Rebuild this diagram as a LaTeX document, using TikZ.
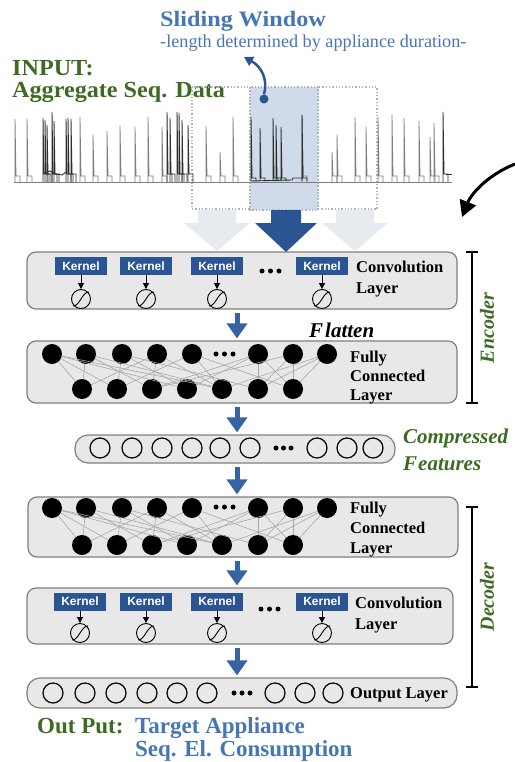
\documentclass[tikz,border=0pt]{standalone}
\usepackage{fontspec}
\setmainfont{Liberation Serif}
\newfontfamily\kfont{Liberation Sans}
\newfontfamily\wserif[FakeStretch=1.1]{Liberation Serif}
\newfontfamily\gserif[FakeStretch=1.05]{Liberation Serif}
\usetikzlibrary{arrows.meta}
\definecolor{gtxt}{HTML}{3E6B23}
\definecolor{btxt}{HTML}{4676B4}
\definecolor{kblue}{HTML}{2B5592}
\definecolor{abl}{HTML}{3563A3}
\definecolor{boxfill}{HTML}{E8E8E8}
\definecolor{boxgray}{HTML}{808080}
\definecolor{winfill}{HTML}{CFDBEB}
\definecolor{ghost}{HTML}{E7EAEF}
\definecolor{conngray}{HTML}{A8A8A8}
\definecolor{wavegray}{HTML}{7E7E7E}
\definecolor{wavedark}{HTML}{2E2E2E}
\begin{document}
\begin{tikzpicture}[x=1pt,y=-1pt,
 layerbox/.style={draw=boxgray, fill=boxfill, line width=1.2pt, rounded corners=9pt, inner sep=0},
 pillbox/.style={layerbox, rounded corners=13pt},
 kernelbox/.style={fill=kblue, text=white, font=\kfont\bfseries\fontsize{12}{12}\selectfont, minimum width=52pt, minimum height=18pt, inner sep=0},
 sig/.style={circle, draw=black, line width=0.9pt, minimum size=19pt, inner sep=0},
 fcnode/.style={circle, fill=black, minimum size=20pt, inner sep=0},
 hnode/.style={circle, draw=black, line width=1.2pt, minimum size=20pt, inner sep=0},
 dotn/.style={circle, fill=black, minimum size=5pt, inner sep=0},
 lbl/.style={anchor=base west, inner sep=0, font=\bfseries\fontsize{16.5}{16.5}\selectfont},
 layerarrow/.style={draw=abl, line width=5pt, shorten <=3pt, shorten >=2pt, -{Triangle[width=20pt,length=15pt]}},
 karrow/.style={line width=1pt, -{Triangle[width=6pt,length=6pt]}},
 conn/.style={draw=conngray, line width=0.6pt},
 wave/.style={draw=wavegray, line width=0.8pt},
 wavek/.style={draw=wavedark, line width=0.9pt},
 dotrect/.style={draw=black!30, dotted, line width=1.3pt},
]
\useasboundingbox (0,0) rectangle (514,762);

% ---------- top titles ----------
\node[anchor=base west, inner sep=0, text=btxt, font=\wserif\bfseries\fontsize{22}{22}\selectfont] (sw) at (160,27) {Sliding Window};
\node[anchor=base west, inner sep=0, text=btxt, font=\fontsize{18.2}{18.2}\selectfont] (swsub) at (160,48) {-length determined by appliance duration-};
\node[anchor=base west, inner sep=0, text=gtxt, font=\gserif\bfseries\fontsize{23}{23}\selectfont] (inp) at (12,76) {INPUT:};
\node[anchor=base west, inner sep=0, text=gtxt, font=\gserif\bfseries\fontsize{23}{23}\selectfont] (agg) at (12,98) {Aggregate Seq. Data};

% ---------- windows ----------
\draw[dotrect] (192,87) rectangle (250,209);
\draw[dotrect] (318,87) rectangle (377,209);
\fill[winfill] (250,87) rectangle (318,210);
\draw[dotrect] (250,87) rectangle (318,210);

% ---------- waveform ----------
\draw[wave] (14,182) -- (452,182);
\foreach \x/\t in {15/119,27/119,80/117,93/135,107/131,120/126,135/127,148/117,162/127,206/126,220/152,233/117,302/115,332/152,337/135,355/117,366/127,378/117,392/115,404/118,419/121,430/137,434/123}
  \draw[wave] (\x,182) -- (\x,\t) -- (\x+1,176) -- (\x+5,176) -- (\x+5,182);
\foreach \x/\t in {43/118,45/120,47/125,52/112,54/121,66/119,68/118,71/119,167/112,170/118,177/112,179/113,182/120,188/125,443/112}
  \draw[wavek] (\x,182) -- (\x,\t) -- (\x+1,174) -- (\x+5,174) -- (\x+5,182);
\draw[wavek] (44,173) -- (50,171) -- (56,174) -- (62,175) -- (66,172);
\draw[wavek] (446,174) -- (452,174);
\foreach \x/\t in {251/117,260/128,273/118,276/125,281/127,302/115}
  \draw[wavek] (\x,181) -- (\x,\t) -- (\x+1,178) -- (\x+5,178) -- (\x+5,181);
\draw[wavek] (251,181) -- (292,180) -- (293,178) -- (302,178);

% ---------- ghost arrows and main arrow ----------
\fill[ghost] (198,210) -- (236,210) -- (236,223) -- (250,223) -- (217,251) -- (184,223) -- (198,223) -- cycle;
\fill[ghost] (336,210) -- (374,210) -- (374,223) -- (388,223) -- (355,251) -- (322,223) -- (336,223) -- cycle;
\fill[kblue] (271,210) -- (301,210) -- (301,223) -- (317,223) -- (286,252) -- (255,223) -- (271,223) -- cycle;

% pointer to sliding window
\node[circle, fill=kblue, minimum size=9pt, inner sep=0] (wdot) at (264,99) {};
\coordinate (wtip) at (244,57);
\draw[kblue, line width=2.5pt, -{Triangle[width=10pt,length=9pt]}] (wdot.north) .. controls (268,80) and (262,67) .. (wtip);

% black curved arrow
\coordinate (bstart) at (515,164);
\coordinate (bend) at (462,217);
\draw[line width=3pt, -{Triangle[width=17pt,length=16pt]}] (bstart) .. controls (490,174) and (472,192) .. (bend);

% ---------- layer boxes ----------
\node[layerbox, minimum width=430pt, minimum height=57pt] (conv1) at (242,280.5) {};
\node[layerbox, minimum width=430pt, minimum height=62pt] (fc1) at (242,372) {};
\node[pillbox, minimum width=320pt, minimum height=28pt] (comp) at (235,449) {};
\node[layerbox, minimum width=430pt, minimum height=60pt] (fc2) at (243,527) {};
\node[layerbox, minimum width=426pt, minimum height=56pt] (conv2) at (240,616) {};
\node[pillbox, minimum width=430pt, minimum height=30pt] (outl) at (242,693) {};

\coordinate (ax) at (237,0);
\draw[layerarrow] (conv1.south -| ax) -- (fc1.north -| ax);
\draw[layerarrow] (fc1.south -| ax) -- (comp.north -| ax);
\draw[layerarrow] (comp.south -| ax) -- (fc2.north -| ax);
\draw[layerarrow] (fc2.south -| ax) -- (conv2.north -| ax);
\draw[layerarrow] (conv2.south -| ax) -- (outl.north -| ax);

% ---------- encoder convolution ----------
\foreach \x [count=\i] in {81,146,217,322} {
  \node[kernelbox] (ek\i) at (\x,266) {Kernel};
  \node[sig] (es\i) at (\x,299) {};
  \draw[karrow] (ek\i) -- (es\i);
  \draw[line width=0.9pt] ([shift={(-8,7)}]es\i.center) .. controls ([shift={(-1,7)}]es\i.center) and ([shift={(1,-7)}]es\i.center) .. ([shift={(8,-7)}]es\i.center);
}
\foreach \x [count=\i] in {262,270.5,279} \node[dotn] (ed\i) at (\x,271) {};
\node[lbl] (cl1a) at (356,272) {Convolution};
\node[lbl] (cl1b) at (356,293) {Layer};
\node[anchor=base west, inner sep=0, font=\bfseries\itshape\fontsize{21}{21}\selectfont, text width=80pt] (flat) at (309,337) {F\kern2pt latten};

% ---------- encoder fully connected ----------
\foreach \x [count=\i] in {52,86,122,157,192,258,293,327} \node[fcnode] (et\i) at (\x,354) {};
\foreach \x [count=\i] in {82,117,152,187,222,258,293} \node[fcnode] (eb\i) at (\x,389) {};
\foreach \x [count=\i] in {216,224.5,233} \node[dotn] (efd\i) at (\x,354) {};
\foreach \a/\b in {1/1,1/2,1/4,1/5,2/1,2/3,2/5,3/2,3/4,3/6,4/1,4/3,4/5,5/2,5/5,5/7,6/3,6/4,6/6,6/7,7/3,7/6,7/7,8/5,8/6,8/7}
  \draw[conn] (et\a) -- (eb\b);
\node[lbl] (fl1a) at (350,362) {Fully};
\node[lbl] (fl1b) at (350,381) {Connected};
\node[lbl] (fl1c) at (350,400) {Layer};

% ---------- compressed features ----------
\foreach \x [count=\i] in {100,132,162,192,220,250,317,347,373} \node[hnode] (cf\i) at (\x,448) {};
\foreach \x [count=\i] in {276,283.5,291} \node[dotn] (cfd\i) at (\x,448) {};
\node[anchor=base west, inner sep=0, text=gtxt, font=\bfseries\itshape\fontsize{21}{21}\selectfont] (cpa) at (403,443) {Compressed};
\node[anchor=base west, inner sep=0, text=gtxt, font=\bfseries\itshape\fontsize{21}{21}\selectfont] (cpb) at (403,470) {F\kern1pt eatures};

% ---------- decoder fully connected ----------
\foreach \x [count=\i] in {52,86,122,157,192,258,293,327} \node[fcnode] (dt\i) at (\x,508) {};
\foreach \x [count=\i] in {82,117,152,187,222,258,293} \node[fcnode] (db\i) at (\x,545) {};
\foreach \x [count=\i] in {216,224.5,233} \node[dotn] (dfd\i) at (\x,507) {};
\foreach \a/\b in {1/1,1/2,1/4,1/5,2/1,2/3,2/5,3/2,3/4,3/6,4/1,4/3,4/5,5/2,5/5,5/7,6/3,6/4,6/6,6/7,7/3,7/6,7/7,8/5,8/6,8/7}
  \draw[conn] (dt\a) -- (db\b);
\node[lbl] (fl2a) at (350,513) {Fully};
\node[lbl] (fl2b) at (350,533) {Connected};
\node[lbl] (fl2c) at (350,553) {Layer};

% ---------- decoder convolution ----------
\foreach \x [count=\i] in {80,146,217,322} {
  \node[kernelbox] (dk\i) at (\x,601.5) {Kernel};
  \node[sig] (ds\i) at (\x,633) {};
  \draw[karrow] (dk\i) -- (ds\i);
  \draw[line width=0.9pt] ([shift={(-8,7)}]ds\i.center) .. controls ([shift={(-1,7)}]ds\i.center) and ([shift={(1,-7)}]ds\i.center) .. ([shift={(8,-7)}]ds\i.center);
}
\foreach \x [count=\i] in {261,269.5,278} \node[dotn] (dd\i) at (\x,609) {};
\node[lbl] (cl2a) at (355,608) {Convolution};
\node[lbl] (cl2b) at (355,629) {Layer};

% ---------- output layer ----------
\foreach \x [count=\i] in {53,85,116,147,177,207,275,305,333} \node[hnode] (o\i) at (\x,693) {};
\foreach \x [count=\i] in {234,242,250} \node[dotn] (od\i) at (\x,693) {};
\node[lbl] (oll) at (350,698) {Output Layer};

% ---------- brackets ----------
\coordinate (enct) at (472,252);
\coordinate (encb) at (472,403);
\draw[line width=2pt] (enct) -- (encb);
\draw[line width=2pt] ([xshift=-6pt]enct) -- ([xshift=6pt]enct);
\draw[line width=2pt] ([xshift=-6pt]encb) -- ([xshift=6pt]encb);
\node[rotate=90, inner sep=0, text=gtxt, font=\bfseries\itshape\fontsize{20}{20}\selectfont] (enc) at (487,328) {Encoder};
\coordinate (dect) at (472,507);
\coordinate (decb) at (472,687);
\draw[line width=2pt] (dect) -- (decb);
\draw[line width=2pt] ([xshift=-6pt]dect) -- ([xshift=6pt]dect);
\draw[line width=2pt] ([xshift=-6pt]decb) -- ([xshift=6pt]decb);
\node[rotate=90, inner sep=0, text=gtxt, font=\bfseries\itshape\fontsize{20}{20}\selectfont] (dec) at (487,597) {Decoder};

% ---------- output caption ----------
\node[anchor=base west, inner sep=0, text=gtxt, font=\bfseries\fontsize{23}{23}\selectfont] (op) at (37,733) {Out Put:};
\node[anchor=base west, inner sep=0, text=btxt, font=\bfseries\fontsize{23}{23}\selectfont] (ta) at (135,733) {Target Appliance};
\node[anchor=base west, inner sep=0, text=btxt, font=\bfseries\fontsize{23}{23}\selectfont] (sq) at (135,756) {Seq. El. Consumption};
\end{tikzpicture}
\end{document}
